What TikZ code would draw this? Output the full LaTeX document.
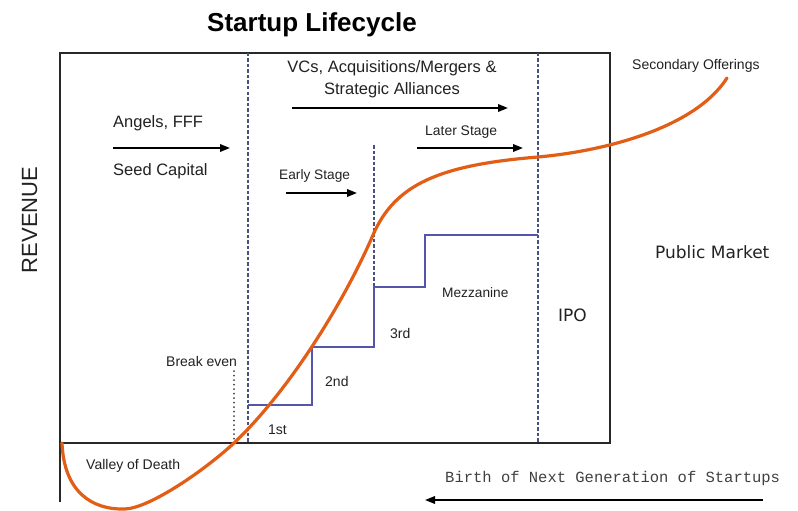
\documentclass[tikz,border=0pt]{standalone}
\usepackage{fontspec}
\setmainfont{Liberation Sans}
\setmonofont{Liberation Mono}
\newfontfamily\dvfont{DejaVu Sans}
\usetikzlibrary{arrows.meta}
\definecolor{inkgray}{RGB}{34,34,34}
\definecolor{framegray}{RGB}{40,40,40}
\definecolor{dashblue}{RGB}{70,82,130}
\definecolor{stepblue}{RGB}{85,85,170}
\definecolor{curveorange}{RGB}{226,94,22}
\tikzset{
  lbl/.style={inner sep=0pt, text=inkgray, anchor=base west},
  frameline/.style={draw=framegray, line width=2pt},
  stagedash/.style={draw=dashblue, line width=1.1pt, dash pattern=on 3.5pt off 2pt},
  fundarrow/.style={draw=black, line width=1.8pt, -{Triangle[length=10pt,width=7.5pt]}},
  stairs/.style={draw=stepblue, line width=1.4pt},
  growth/.style={draw=curveorange, line width=3.2pt, line cap=round, line join=round}
}
\begin{document}
\begin{tikzpicture}[x=1pt,y=-1pt]
\useasboundingbox[fill=white] (0,0) rectangle (798,511);

% frame and axis
\coordinate (tl) at (60,53);
\coordinate (tr) at (610,53);
\coordinate (br) at (610,443);
\coordinate (bl) at (60,443);
\coordinate (axisend) at (60,502);
\draw[frameline] (axisend) -- (tl) -- (tr) -- (br) -- (bl);

% stage separators
\coordinate (d1t) at (248,53);  \coordinate (d1b) at (248,443);
\coordinate (d2t) at (538,53);  \coordinate (d2b) at (538,443);
\coordinate (d3t) at (374,145); \coordinate (d3b) at (374,287);
\draw[stagedash] (d1t) -- (d1b);
\draw[stagedash] (d2t) -- (d2b);
\draw[stagedash] (d3t) -- (d3b);

% break-even marker
\coordinate (bet) at (234,371); \coordinate (beb) at (234,443);
\draw[draw=black!75, line width=2pt, line cap=round, dash pattern=on 0pt off 4.5pt] (bet) -- (beb);

% funding rounds staircase
\coordinate (s0) at (248,405);
\draw[stairs] (s0) -- (312,405) -- (312,347) -- (374,347) -- (374,287)
  -- (425,287) -- (425,235) -- (538,235);

% revenue curve
\draw[growth] (62,443) .. controls (64,492) and (92,510) .. (125,509)
  .. controls (150,508) and (205,470) .. (234,443)
  .. controls (290,390) and (345,300) .. (373,235)
  .. controls (395,184) and (440,165) .. (538,157)
  .. controls (605,151) and (695,128) .. (727,78);

% title and axis label
\node[inner sep=0pt, anchor=base, font=\bfseries\fontsize{26}{29}\selectfont, text=black] (title) at (312,32) {Startup Lifecycle};
\node[inner sep=0pt, anchor=base, rotate=90, font=\fontsize{22}{24}\selectfont, text=inkgray] (rev) at (37,220) {REVENUE};

% funding labels and arrows
\node[inner sep=0pt, anchor=base, font=\fontsize{16.5}{21}\selectfont, text=inkgray] (vcs) at (392,73) {VCs, Acquisitions/Mergers \&};
\node[inner sep=0pt, anchor=base, font=\fontsize{16.5}{21}\selectfont, text=inkgray] (vcs2) at (392,94) {Strategic Alliances};
\coordinate (vca) at (292,108); \coordinate (vcb) at (508,108);
\draw[fundarrow] (vca) -- (vcb);

\node[lbl, font=\fontsize{16.5}{20}\selectfont] (angels) at (113,128) {Angels, FFF};
\node[lbl, font=\fontsize{16.5}{20}\selectfont] (seed) at (113,175) {Seed Capital};
\coordinate (aa) at (113,148); \coordinate (ab) at (230,148);
\draw[fundarrow] (aa) -- (ab);

\node[lbl, font=\fontsize{13.7}{16}\selectfont] (early) at (279,179) {Early Stage};
\coordinate (ea) at (286,193); \coordinate (eb) at (357,193);
\draw[fundarrow] (ea) -- (eb);

\node[lbl, font=\fontsize{13.9}{16}\selectfont] (later) at (425,135) {Later Stage};
\coordinate (la) at (417,148); \coordinate (lb) at (523,148);
\draw[fundarrow] (la) -- (lb);

\node[lbl, font=\fontsize{14}{16}\selectfont] (secondary) at (632,70) {Secondary Offerings};
\node[lbl, font=\dvfont\fontsize{17}{20}\selectfont] (public) at (655,258) {Public Market};
\node[lbl, font=\dvfont\fontsize{17}{20}\selectfont] (ipo) at (558,321) {IPO};
\node[lbl, font=\fontsize{13.7}{16}\selectfont] (mezz) at (442,297) {Mezzanine};
\node[lbl, font=\fontsize{14}{16}\selectfont] (third) at (390,338) {3rd};
\node[lbl, font=\fontsize{14}{16}\selectfont] (second) at (325,386) {2nd};
\node[lbl, font=\fontsize{14}{16}\selectfont] (first) at (268,434) {1st};
\node[lbl, font=\fontsize{14}{16}\selectfont] (breakeven) at (166,366) {Break even};
\node[lbl, font=\fontsize{14}{16}\selectfont] (valley) at (86,469) {Valley of Death};

% next generation
\node[lbl, font=\ttfamily\fontsize{15.5}{18}\selectfont, text=black!75] (birth) at (445,482) {Birth of Next Generation of Startups};
\coordinate (ba) at (763,500); \coordinate (bb) at (425,500);
\draw[fundarrow] (ba) -- (bb);
\end{tikzpicture}
\end{document}
